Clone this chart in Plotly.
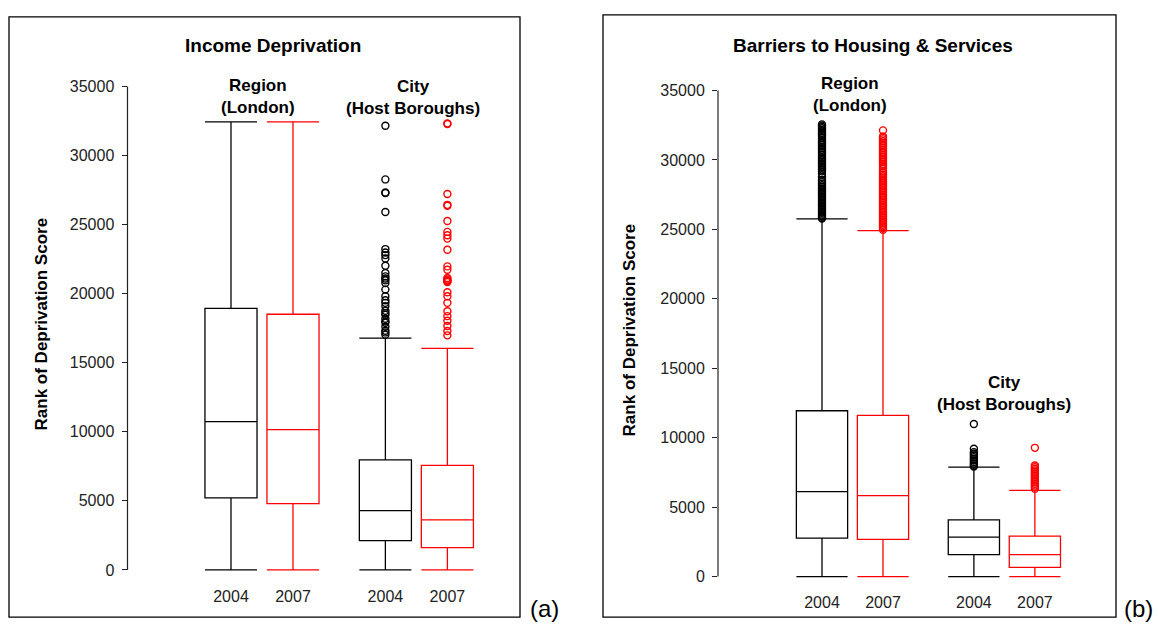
import plotly.graph_objects as go

W, H = 1158, 626

# Box positions (two groups of two years) and tick labels
positions = [1, 2, 3.49, 4.49]
years = ["2004", "2007", "2004", "2007"]
colors = ["black", "red", "black", "red"]

# Income Deprivation: five-number summaries (lower, q1, median, q3, upper)
inc_lower = [0, 0, 0, 0]
inc_q1 = [5216, 4805, 2118, 1614]
inc_median = [10735, 10159, 4301, 3631]
inc_q3 = [18948, 18516, 7975, 7565]
inc_upper = [32450, 32450, 16787, 16049]

# Income Deprivation outliers (City, Host Boroughs)
inc_city_2004_out = [32170, 28280, 27330, 27290, 25920, 23235, 22990, 22800, 22557,
                     22030, 21500, 21260, 21100, 20971, 20783, 20300, 19818, 19530,
                     19342, 19100, 18766, 18600, 18478, 18190, 18000, 17900, 17613,
                     17324, 17200, 17036]
inc_city_2007_out = [32340, 32290, 27219, 26440, 26370, 25272, 24480, 24240, 23995,
                     23184, 21981, 21743, 21145, 21030, 20960, 20901, 20850, 20107,
                     19818, 19342, 18738, 18378, 18046, 17660, 17300, 16986]

# Barriers to Housing & Services: five-number summaries
bar_lower = [0, 0, 0, 0]
bar_q1 = [2767, 2673, 1577, 667]
bar_median = [6114, 5827, 2838, 1577]
bar_q3 = [11941, 11611, 4085, 2910]
bar_upper = [25753, 24916, 7880, 6200]

# Barriers outliers
bar_region_2004_out = [32560, 32470, 32380, 32280, 32170, 32060, 31950, 31840, 31720,
                       31570, 31420, 31300, 31190, 31080, 30960, 30850, 30740, 30620,
                       30510, 30360, 30200, 30090, 29980, 29870, 29760, 29650, 29540,
                       29430, 29320, 29180, 29000, 28780, 28560, 28420, 28300, 28180,
                       28060, 27950, 27840, 27730, 27620, 27510, 27400, 27290, 27180,
                       27070, 26960, 26850, 26740, 26630, 26520, 26410, 26300, 26190,
                       26080, 25970, 25860, 25790]
bar_region_2007_out = [32130, 31700, 31600, 31480, 31350, 31230, 31100, 30980, 30850,
                       30720, 30600, 30480, 30350, 30230, 30100, 29980, 29850, 29720,
                       29600, 29400, 29200, 29080, 28950, 28830, 28700, 28580, 28460,
                       28340, 28220, 28100, 27980, 27860, 27740, 27620, 27500, 27380,
                       27260, 27140, 27020, 26900, 26780, 26660, 26540, 26420, 26300,
                       26180, 26060, 25940, 25820, 25700, 25580, 25460, 25340, 25220,
                       25100, 24980]
bar_city_2004_out = [10990, 9200, 8960, 8840, 8720, 8600, 8480, 8360, 8240, 8120,
                     8000, 7920]
bar_city_2007_out = [9270, 8000, 7880, 7760, 7640, 7520, 7400, 7280, 7160, 7040,
                     6920, 6800, 6680, 6560, 6440, 6320]

y_ticks = [0, 5000, 10000, 15000, 20000, 25000, 30000, 35000]
y_ticktext = ["0", "5000", "10000", "15000", "20000", "25000", "30000", "35000"]

FONT = "Liberation Sans, Arial, sans-serif"


def fx(px):
    return px / W


def fy(py):
    return 1 - py / H


fig = go.Figure()


def add_panel(xa, ya, lower, q1, med, q3, upper, outliers):
    for i, pos in enumerate(positions):
        fig.add_trace(go.Box(
            x=[pos], lowerfence=[lower[i]], q1=[q1[i]], median=[med[i]],
            q3=[q3[i]], upperfence=[upper[i]],
            width=0.84, whiskerwidth=1, boxpoints=False,
            fillcolor="rgba(0,0,0,0)",
            line=dict(color=colors[i], width=1.3),
            xaxis=xa, yaxis=ya, showlegend=False, hoverinfo="skip",
        ))
    for pos, vals, col in outliers:
        fig.add_trace(go.Scatter(
            x=[pos] * len(vals), y=vals, mode="markers",
            marker=dict(symbol="circle-open", size=7, color=col,
                        line=dict(color=col, width=1.4)),
            xaxis=xa, yaxis=ya, showlegend=False, hoverinfo="skip",
            cliponaxis=False,
        ))


add_panel("x", "y", inc_lower, inc_q1, inc_median, inc_q3, inc_upper,
          [(positions[2], inc_city_2004_out, "black"),
           (positions[3], inc_city_2007_out, "red")])
add_panel("x2", "y2", bar_lower, bar_q1, bar_median, bar_q3, bar_upper,
          [(positions[0], bar_region_2004_out, "black"),
           (positions[1], bar_region_2007_out, "red"),
           (positions[2], bar_city_2004_out, "black"),
           (positions[3], bar_city_2007_out, "red")])

xaxis_common = dict(tickvals=positions, ticktext=years, showline=False,
                    showgrid=False, zeroline=False, ticks="",
                    tickfont=dict(family=FONT, size=16, color="#222"),
                    ticklabelstandoff=8)
yaxis_common = dict(range=[-500, 35500], tickvals=y_ticks, ticktext=y_ticktext,
                    showline=False, showgrid=False, zeroline=False,
                    ticks="outside", ticklen=5, tickwidth=1, tickcolor="#222",
                    tickfont=dict(family=FONT, size=16, color="#222"),
                    ticklabelstandoff=4)

fig.update_layout(
    width=W, height=H,
    margin=dict(l=0, r=0, t=0, b=0),
    paper_bgcolor="white", plot_bgcolor="rgba(0,0,0,0)",
    boxmode="overlay",
    xaxis=dict(domain=[fx(127.5), fx(520)], range=[-0.669, 5.661], **xaxis_common),
    yaxis=dict(domain=[fy(578.6), fy(79.1)], anchor="x", **yaxis_common),
    xaxis2=dict(domain=[fx(718), fx(1116)], range=[-0.705, 5.82], anchor="y2",
                **xaxis_common),
    yaxis2=dict(domain=[fy(585.3), fy(83.0)], anchor="x2", **yaxis_common),
)

# Panel frames and y-axis lines
shapes = [
    dict(type="rect", xref="paper", yref="paper", x0=fx(9), x1=fx(520),
         y0=fy(619), y1=fy(16), line=dict(color="black", width=1.3)),
    dict(type="rect", xref="paper", yref="paper", x0=fx(603), x1=fx(1116),
         y0=fy(619), y1=fy(14), line=dict(color="black", width=1.3)),
    dict(type="line", xref="x domain", yref="y", x0=0, x1=0, y0=0, y1=35000,
         line=dict(color="#222", width=1.2)),
    dict(type="line", xref="x2 domain", yref="y2", x0=0, x1=0, y0=0, y1=35000,
         line=dict(color="#222", width=1.2)),
]
fig.update_layout(shapes=shapes)


def label(text, x, y, size, bold=True, angle=0):
    fig.add_annotation(
        text=f"<b>{text}</b>" if bold else text,
        x=fx(x), y=fy(y), xref="paper", yref="paper",
        xanchor="center", yanchor="middle", showarrow=False, textangle=angle,
        font=dict(family=FONT, size=size, color="black"),
    )


label("Income Deprivation", 273, 45, 19)
label("Barriers to Housing &amp; Services", 873, 45, 19)
label("Region<br>(London)", 258, 96, 17)
label("City<br>(Host Boroughs)", 413, 97, 17)
label("Region<br>(London)", 850, 94, 17)
label("City<br>(Host Boroughs)", 1004, 394, 17)
label("Rank of Deprivation Score", 41, 325, 17, angle=-90)
label("Rank of Deprivation Score", 629, 331, 17, angle=-90)
label("(a)", 544, 610, 24, bold=False)
label("(b)", 1138, 610, 24, bold=False)

fig.write_html("out.html")
